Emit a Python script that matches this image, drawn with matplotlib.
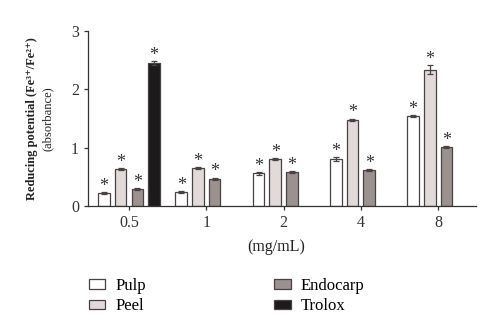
import matplotlib
matplotlib.use('Agg')
import matplotlib.pyplot as plt
import numpy as np

plt.rcParams['font.family'] = ['Liberation Serif', 'DejaVu Serif']

concs = ['0.5', '1', '2', '4', '8']
pulp = [0.22, 0.24, 0.56, 0.81, 1.54]
peel = [0.64, 0.65, 0.81, 1.48, 2.34]
endo = [0.29, 0.47, 0.58, 0.62, 1.01]
trolox = [2.45]
pulp_err = [0.02, 0.02, 0.02, 0.03, 0.02]
peel_err = [0.02, 0.02, 0.02, 0.02, 0.07]
endo_err = [0.02, 0.02, 0.02, 0.02, 0.02]
trolox_err = [0.04]

fig = plt.figure(figsize=(5, 3.33), dpi=100)
ax = fig.add_axes([0.176, 0.381, 0.776, 0.526])

x = np.arange(len(concs))
step = 0.216
w = 0.15
edge = '#4a4242'
series = [
    ('Pulp', pulp, pulp_err, '#ffffff', x - 1.5 * step),
    ('Peel', peel, peel_err, '#e2d9d9', x - 0.5 * step),
    ('Endocarp', endo, endo_err, '#9b918e', x + 0.5 * step),
    ('Trolox', trolox, trolox_err, '#1c1a1a', x[:1] + 1.5 * step),
]
handles = {}
for name, vals, err, col, pos in series:
    b = ax.bar(pos, vals, w, color=col, edgecolor=edge, linewidth=0.9,
               yerr=err, error_kw=dict(ecolor=edge, elinewidth=0.9, capsize=2.5, capthick=0.9))
    handles[name] = b
    # asterisk above each bar
    for p, v, e in zip(pos, vals, err):
        ax.text(p, v + e - 0.05, '*', ha='center', va='bottom', fontsize=13, color='#333333')

ax.set_xlim(-0.53, 4.49)
ax.set_ylim(0, 3)
ax.set_yticks([0, 1, 2, 3])
ax.set_xticks(x)
ax.set_xticklabels(concs)
ax.tick_params(labelsize=11.5, direction='out', length=3, width=0.9, colors='#333333')
ax.spines['top'].set_visible(False)
ax.spines['right'].set_visible(False)
ax.spines['left'].set_bounds(0, 3)
for s in ['left', 'bottom']:
    ax.spines[s].set_linewidth(0.9)
    ax.spines[s].set_color('#333333')

fig.text(0.064, 0.645, 'Reducing potential (Fe³⁺/Fe²⁺)', rotation=90,
         ha='center', va='center', fontsize=9, fontweight='bold', color='#222222')
fig.text(0.096, 0.645, '(absorbance)', rotation=90, ha='center', va='center',
         fontsize=9, color='#222222')
fig.text(0.552, 0.258, '(mg/mL)', ha='center', va='center', fontsize=11.5, color='#222222')

leg = fig.legend([handles['Pulp'], handles['Peel'], handles['Endocarp'], handles['Trolox']],
                 ['Pulp', 'Peel', 'Endocarp', 'Trolox'], ncol=2, frameon=False,
                 loc='upper left', bbox_to_anchor=(0.147, 0.21), fontsize=12,
                 handlelength=1.0, handleheight=0.5, columnspacing=7.7,
                 labelspacing=0.25, handletextpad=0.6)

fig.savefig('out.png', dpi=100)
